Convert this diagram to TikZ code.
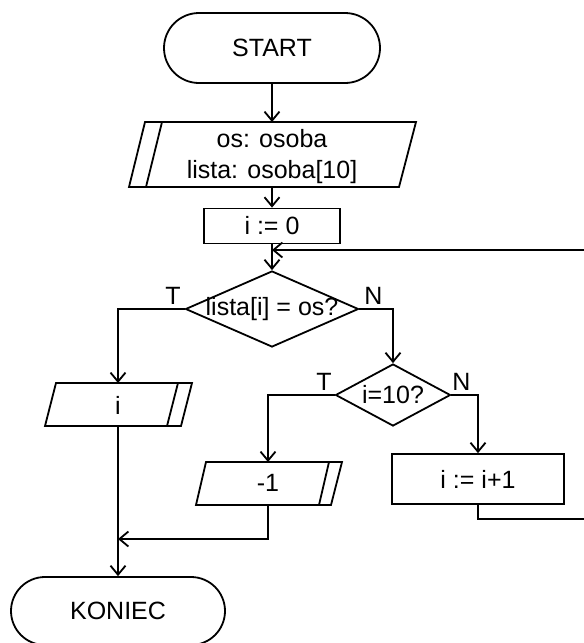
\documentclass[tikz,border=0pt]{standalone}
\usepackage{fontspec}
\setmainfont{Liberation Sans}
\usetikzlibrary{shapes.misc,shapes.geometric,arrows.meta}
\begin{document}
\begin{tikzpicture}[x=1pt,y=-1pt,line width=1.8pt,
  font=\fontsize{25}{31}\selectfont,
  term/.style={rounded rectangle,draw,inner sep=0pt,minimum width=216pt,minimum height=70pt},
  proc/.style={rectangle,draw,inner sep=0pt},
  dec/.style={diamond,draw,inner sep=0pt},
  txt/.style={inner sep=0pt,align=center},
  lbl/.style={inner sep=0pt},
  flow/.style={-{Straight Barb[length=9pt,width=15pt,line width=1.8pt]}}
]
\clip (0,0) rectangle (584,643);

% START
\node[term] (start) at (272,48) {START};

% input parallelogram
\draw (145,122) -- (416,122) -- (399,187) -- (129,187) -- cycle;
\draw (162,122) -- (146,187);
\node[txt] (in1) at (272,157) {os: osoba\\lista: osoba[10]};
\coordinate (in1n) at (272,122);
\coordinate (in1s) at (272,187);

% i := 0
\node[proc,minimum width=136pt,minimum height=35pt] (init) at (272,226) {i := 0};

% decision 1
\node[dec,minimum width=173pt,minimum height=76pt] (d1) at (272,309) {};
\node[txt] (d1t) at (272,309) {lista[i] = os?};

% decision 2
\node[dec,minimum width=115pt,minimum height=62pt] (d2) at (393,395) {};
\node[txt] (d2t) at (393,395) {i=10?};

% output i
\draw (56,383) -- (192,383) -- (181,426) -- (45,426) -- cycle;
\draw (178,383) -- (167,426);
\node[txt] (out1) at (118,405) {i};
\coordinate (out1n) at (118,383);
\coordinate (out1s) at (118,426);

% output -1
\draw (206,462) -- (342,462) -- (331,505) -- (196,505) -- cycle;
\draw (329,462) -- (319,505);
\node[txt] (out2) at (268,483) {-1};
\coordinate (out2n) at (268,462);
\coordinate (out2s) at (268,505);

% i := i+1
\node[proc,minimum width=172pt,minimum height=50pt] (inc) at (478,479) {i := i+1};

% KONIEC
\node[term,minimum width=214pt,minimum height=68pt] (koniec) at (118,611) {KONIEC};

% labels
\node[lbl,anchor=south east] (t1) at ([shift={(-3,-4)}]d1.west) {T};
\node[lbl,anchor=south west] (n1) at ([shift={(4,-4)}]d1.east) {N};
\node[lbl,anchor=south east] (t2) at ([shift={(-2,-4)}]d2.west) {T};
\node[lbl,anchor=south west] (n2) at ([shift={(0,-4)}]d2.east) {N};

% connectors
\draw[flow] (start.south) -- (in1n);
\draw[flow] (in1s) -- (init.north);
\draw[flow] (init.south) -- (d1.north);
\draw[flow] (d1.west) -| (out1n);
\draw[flow] (d1.east) -| (d2.north);
\draw[flow] (d2.west) -| (out2n);
\draw[flow] (d2.east) -| (inc.north);
\draw[flow] (out1s) -- (koniec.north);
\coordinate (merge) at (118,539);
\draw[flow] (out2s) |- (merge);
\coordinate (loopa) at (600,519);
\coordinate (loopb) at (600,250);
\coordinate (loopin) at (272,250);
\draw[flow] (inc.south) |- (loopa) -- (loopb) -- (loopin);
\end{tikzpicture}
\end{document}
